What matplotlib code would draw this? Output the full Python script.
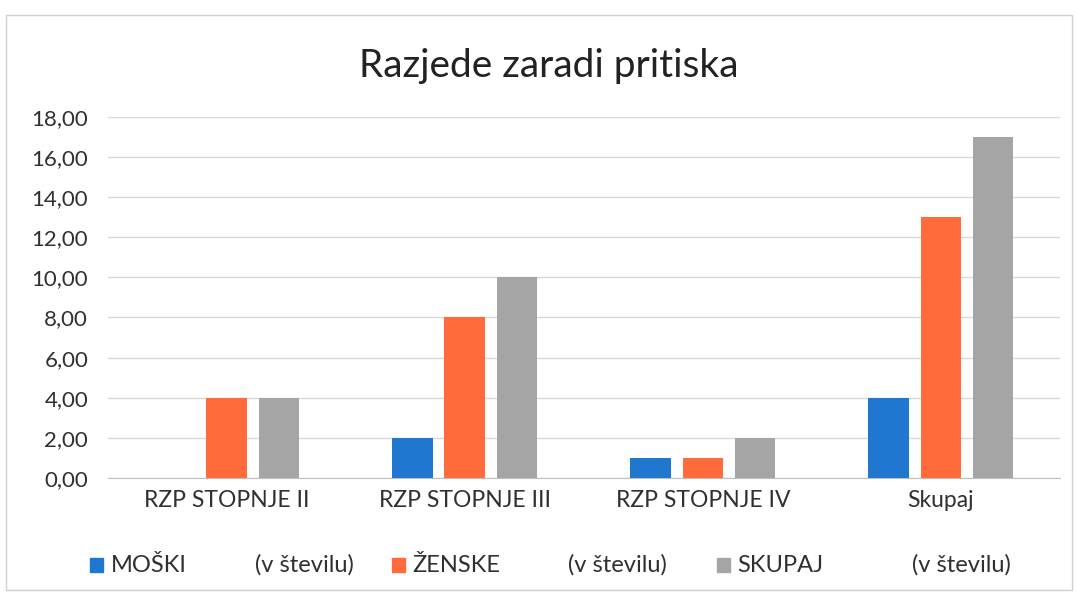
import matplotlib
matplotlib.use("Agg")
import matplotlib.pyplot as plt
import numpy as np
from matplotlib.ticker import FuncFormatter, MultipleLocator
from matplotlib.patches import Rectangle

categories = ["RZP STOPNJE II", "RZP STOPNJE III", "RZP STOPNJE IV", "Skupaj"]
moski = [0, 2, 1, 4]
zenske = [4, 8, 1, 13]
skupaj = [4, 10, 2, 17]
series_labels = ["MOŠKI", "ŽENSKE", "SKUPAJ"]
colors = ["#1F77D0", "#FF6B3B", "#A5A5A5"]

plt.rcParams['font.family'] = ['Lato', 'DejaVu Sans']

fig = plt.figure(figsize=(10.76, 5.96), dpi=100)
fig.patches.append(Rectangle((0.006, 0.01), 0.99, 0.965, transform=fig.transFigure,
                             fill=False, edgecolor="#d0d0d0", linewidth=1.0))
ax = fig.add_axes([0.100, 0.198, 0.885, 0.606])

x = np.arange(len(categories))
w = 0.17
off = 0.22
for i, (vals, c) in enumerate(zip([moski, zenske, skupaj], colors)):
    ax.bar(x + (i - 1) * off, vals, width=w, color=c, zorder=3, label=series_labels[i])

ax.set_xlim(-0.5, len(categories) - 0.5)
ax.set_ylim(0, 18)
ax.yaxis.set_major_locator(MultipleLocator(2))
ax.yaxis.set_major_formatter(FuncFormatter(lambda v, p: f"{v:.2f}".replace(".", ",")))
ax.grid(axis="y", color="#d9d9d9", linewidth=1.0, zorder=0)
for s in ["top", "right", "left"]:
    ax.spines[s].set_visible(False)
ax.spines["bottom"].set_color("#bfbfbf")
ax.set_xticks(x)
ax.set_xticklabels(categories)
ax.tick_params(axis="x", length=0, labelsize=16.5, colors="#303030", pad=9)
ax.tick_params(axis="y", length=0, labelsize=16, colors="#303030", pad=14)

fig.text(0.51, 0.89, "Razjede zaradi pritiska", ha="center", va="center",
         fontsize=28, color="#222222")

# legend
ly = 0.052
entries = [(0.0836, "MOŠKI", 0.237), (0.364, "ŽENSKE", 0.528), (0.666, "SKUPAJ", 0.848)]
for (sx, lab, tx), c in zip(entries, colors):
    fig.patches.append(Rectangle((sx, ly - 0.0118), 0.012, 0.0235, transform=fig.transFigure,
                                 color=c))
    fig.text(sx + 0.0195, ly, lab, ha="left", va="center", fontsize=17, color="#303030")
    fig.text(tx, ly, "(v številu)", ha="left", va="center", fontsize=17, color="#303030")

fig.savefig("out.png", dpi=100, facecolor="white")
